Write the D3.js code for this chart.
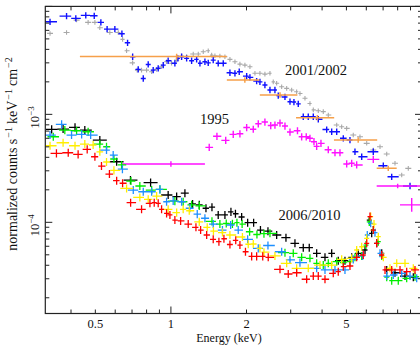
<!DOCTYPE html>
<html>
<head>
<meta charset="utf-8">
<script src="https://cdn.jsdelivr.net/npm/d3@7"></script>
<style>
  body { margin: 0; background: #fff; }
  text { font-family: "Liberation Serif", "Times New Roman", serif; fill: #111; }
</style>
</head>
<body>
<script>
// energies in keV, fluxes in units of 1e-3 counts s^-1 keV^-1 cm^-2
var unit = 1e-3;

// 2001/2002
var blueE = [0.330,0.384,0.418,0.458,0.495,0.526,0.557,0.598,0.638,0.672,0.704,0.741,0.776,0.812,0.850,0.890,0.932,0.975,1.037,1.066,1.103,1.155,1.209,1.266,1.305,1.366,1.408,1.474,1.543,1.616,1.718,1.799,1.871,2.003,2.064,2.195,2.262,2.368,2.480,2.596,2.676,2.846,2.980,3.090,3.215,3.366,3.524,3.690,3.863,4.172,4.368,4.574,4.859,5.166,5.408,5.753,6.397,7.014,7.574,8.96];
var blueF = [7.20,8.13,7.74,8.25,8.18,7.11,6.16,6.16,5.58,4.60,3.42,2.61,2.15,2.90,2.57,2.67,2.86,3.14,2.97,3.30,3.42,3.30,3.14,3.23,2.97,3.07,3.00,3.18,2.97,2.97,2.43,2.40,2.48,2.26,2.20,2.03,2.00,1.87,1.68,1.68,1.49,1.45,1.31,1.30,1.25,0.95,0.95,0.95,0.90,0.723,0.690,0.690,0.600,0.578,0.450,0.405,0.450,0.334,0.264,0.217];

var grayE = [0.330,0.384,0.421,0.468,0.498,0.521,0.571,0.617,0.642,0.666,0.704,0.734,0.764,0.800,0.838,0.877,0.918,0.961,1.006,1.054,1.103,1.155,1.227,1.285,1.345,1.408,1.453,1.497,1.567,1.641,1.718,1.799,1.883,1.971,2.064,2.161,2.262,2.368,2.480,2.556,2.637,2.761,2.891,3.026,3.168,3.266,3.419,3.579,3.690,3.863,4.044,4.234,4.574,4.787,5.012,5.324,5.662,6.022,6.397,6.804,7.236,7.806,8.302,8.818];
var grayF = [5.62,5.74,7.47,7.11,7.11,6.34,5.74,5.74,4.95,3.88,3.00,2.57,2.57,2.57,2.48,2.61,2.76,3.07,2.97,3.18,3.47,3.44,3.62,3.62,3.80,3.88,3.54,3.49,3.47,3.42,3.23,3.07,2.92,2.86,2.76,2.40,2.40,2.36,2.40,2.00,1.94,1.80,1.74,1.68,1.62,1.56,1.41,1.26,1.10,1.08,1.06,0.985,0.796,0.768,0.742,0.643,0.620,0.539,0.467,0.501,0.429,0.352,0.274,0.316];

var orangeE = [1.054,1.97,2.72,3.83,5.57,7.34];
var orangeLo = [0.434,1.67,2.26,3.15,4.46,6.60];
var orangeHi = [1.67,2.25,3.19,4.47,6.63,7.93];
var orangeF = [3.44,2.08,1.51,0.93,0.578,0.316];

// 1995
var magentaE = [1.421,1.525,1.653,1.771,1.883,2.003,2.128,2.228,2.368,2.498,2.596,2.719,2.846,2.980,3.192,3.317,3.459,3.579,3.713,3.806,3.959,4.234,4.502,4.713,5.012,5.247,5.493,6.397];
var magentaF = [0.495,0.626,0.574,0.653,0.661,0.755,0.728,0.818,0.849,0.788,0.796,0.831,0.779,0.686,0.705,0.620,0.620,0.600,0.558,0.505,0.539,0.470,0.441,0.441,0.347,0.352,0.340,0.383];
var magentaWideE = [1.0,8.0,9.1];
var magentaWideLo = [0.636,6.6,8.17];
var magentaWideHi = [1.366,10.5,10.5];
var magentaWideF = [0.347,0.217,0.145];
var magentaWideErr = [0.06,0.05,0.16];

// 2006/2010
var blackE = [0.335,0.372,0.415,0.454,0.521,0.608,0.690,0.830,0.975,1.054,1.137,1.220,1.297,1.379,1.457,1.543,1.641,1.734,1.807,1.913,2.021,2.135,2.273,2.435,2.637,2.872,3.119,3.366,3.556,3.806,4.108,4.368,4.640,4.934,5.247,5.575,5.929,6.166,6.304,6.600,6.912,7.236,7.806,8.556,9.234];
var blackF = [0.726,0.731,0.758,0.715,0.578,0.364,0.246,0.233,0.179,0.173,0.186,0.148,0.145,0.135,0.138,0.117,0.117,0.125,0.120,0.112,0.0992,0.0992,0.0848,0.0827,0.0763,0.0720,0.0639,0.0582,0.0582,0.0516,0.0474,0.0516,0.0441,0.0441,0.0474,0.0516,0.0554,0.105,0.0791,0.0639,0.0516,0.0362,0.0341,0.0318,0.0310];

var greenE = [0.340,0.378,0.421,0.468,0.521,0.554,0.593,0.636,0.693,0.752,0.838,0.904,1.037,1.119,1.209,1.297,1.457,1.567,1.661,1.758,1.832,1.921,2.058,2.201,2.347,2.480,2.846,3.071,3.317,3.579,3.806,4.044,4.234,4.574,4.859,5.166,5.408,5.753,5.983,6.166,6.397,6.698,6.912,7.236,7.574,8.045,8.690,9.378];
var greenF = [0.620,0.715,0.705,0.690,0.531,0.501,0.386,0.340,0.241,0.217,0.199,0.202,0.157,0.155,0.145,0.142,0.102,0.0964,0.0975,0.0968,0.0992,0.0964,0.0818,0.0771,0.0784,0.0791,0.0523,0.0516,0.0474,0.0464,0.0417,0.0402,0.0417,0.0432,0.0423,0.0432,0.0474,0.0488,0.0616,0.101,0.0848,0.0661,0.0488,0.0310,0.0288,0.0288,0.0303,0.0314];

var azureE = [0.330,0.367,0.402,0.441,0.479,0.554,0.589,0.641,0.708,0.776,0.838,0.904,0.961,1.021,1.103,1.190,1.273,1.366,1.474,1.604,1.729,1.854,2.021,2.228,2.435,2.761,2.980,3.266,3.806,4.108,4.502,4.934,5.324,5.804,6.055,6.246,6.497,6.804,7.236,7.686,8.302,8.96,9.526];
var azureF = [0.643,0.808,0.643,0.653,0.643,0.467,0.420,0.311,0.199,0.192,0.192,0.202,0.155,0.158,0.155,0.135,0.119,0.109,0.0964,0.0848,0.0944,0.0848,0.0696,0.0574,0.0610,0.0534,0.0448,0.0423,0.0375,0.0362,0.0362,0.0362,0.0454,0.0488,0.0763,0.0979,0.0801,0.0516,0.0318,0.0325,0.0337,0.0318,0.0303];

var yellowE = [0.330,0.372,0.415,0.454,0.490,0.521,0.554,0.593,0.666,0.752,0.812,0.877,0.975,1.054,1.119,1.183,1.297,1.395,1.477,1.604,1.718,1.927,2.032,2.128,2.262,2.347,2.596,2.891,3.168,3.524,3.924,4.368,4.787,5.247,5.493,5.753,6.022,6.246,6.440,6.698,7.014,7.456,7.930,8.556,9.234];
var yellowF = [0.512,0.546,0.512,0.531,0.520,0.450,0.362,0.303,0.206,0.170,0.163,0.175,0.132,0.123,0.132,0.128,0.101,0.0899,0.0830,0.0804,0.0763,0.0731,0.0626,0.0630,0.0574,0.0529,0.0488,0.0417,0.0375,0.0375,0.0402,0.0402,0.0454,0.0464,0.0554,0.0594,0.0711,0.113,0.0964,0.0736,0.0474,0.0375,0.0417,0.0417,0.0375];

var redE = [0.350,0.390,0.427,0.464,0.498,0.529,0.569,0.608,0.642,0.691,0.764,0.825,0.858,0.890,0.918,0.961,0.991,1.037,1.093,1.172,1.258,1.313,1.388,1.474,1.553,1.626,1.718,1.812,1.883,1.981,2.097,2.195,2.321,2.441,2.719,2.933,3.168,3.472,3.690,3.863,4.108,4.432,4.640,4.859,5.166,5.493,5.836,6.022,6.206,6.397,6.600,6.912,7.124,7.574,8.174,8.690,9.378];
var redF = [0.435,0.441,0.426,0.474,0.405,0.332,0.280,0.243,0.230,0.152,0.132,0.150,0.152,0.150,0.132,0.121,0.117,0.105,0.103,0.0964,0.0899,0.0848,0.0763,0.0696,0.0661,0.0704,0.0623,0.0681,0.0616,0.0534,0.0484,0.0484,0.0484,0.0474,0.0367,0.0332,0.0341,0.0297,0.0318,0.0318,0.0297,0.0337,0.0349,0.0388,0.0394,0.0474,0.0498,0.0639,0.113,0.0848,0.0639,0.0498,0.0362,0.0362,0.0362,0.0349,0.0362];

var xTickLabels = [0.5, 1, 2, 5];
var yTickLabels = [1e-4, 1e-3];

var plotLeft = 45.3, plotRight = 422, plotTop = 6.4, plotBottom = 313.5;

var x = d3.scaleLog().domain([0.316, 10]).range([plotLeft, plotRight]);
var y = d3.scaleLog().domain([1.43e-5, 1e-2]).range([plotBottom, plotTop]);

var svg = d3.select("body").append("svg")
  .attr("width", 420)
  .attr("height", 346)
  .attr("font-family", "'Liberation Serif', 'Times New Roman', serif");

svg.append("clipPath").attr("id", "plot")
  .append("rect")
  .attr("x", plotLeft).attr("y", plotTop)
  .attr("width", plotRight - plotLeft).attr("height", plotBottom - plotTop);

var plot = svg.append("g").attr("clip-path", "url(#plot)");

// crosses whose horizontal bars reach half way to the neighbouring bins
function crosses(E, F, color, relErr, minHalf, maxHalf, width) {
  var px = E.map(e => x(e));
  var d = "";
  for (let i = 0; i < E.length; i++) {
    var gl = i > 0 ? (px[i] - px[i - 1]) / 2 : (px[i + 1] - px[i]) / 2;
    var gr = i < E.length - 1 ? (px[i + 1] - px[i]) / 2 : gl;
    var hl = Math.max(minHalf, Math.min(maxHalf, gl));
    var hr = Math.max(minHalf, Math.min(maxHalf, gr));
    var f = F[i] * unit;
    var cy = y(f);
    d += `M${px[i] - hl},${cy}H${px[i] + hr}M${px[i]},${y(f * (1 + relErr))}V${y(f / (1 + relErr))}`;
  }
  plot.append("path")
    .attr("d", d)
    .attr("fill", "none")
    .attr("stroke", color)
    .attr("stroke-width", width);
}

function wideBins(E, lo, hi, F, err, color, width) {
  var d = "";
  for (let i = 0; i < E.length; i++) {
    var f = F[i] * unit;
    var e = Array.isArray(err) ? err[i] : err;
    d += `M${x(lo[i])},${y(f)}H${x(hi[i])}M${x(E[i])},${y(f * (1 + e))}V${y(f / (1 + e))}`;
  }
  plot.append("path")
    .attr("d", d)
    .attr("fill", "none")
    .attr("stroke", color)
    .attr("stroke-width", width);
}

crosses(grayE, grayF, "#a8a8a8", 0.05, 1.5, 3, 1.1);
crosses(blueE, blueF, "#1010ff", 0.07, 2, 7, 1.4);
wideBins(orangeE, orangeLo, orangeHi, orangeF, 0.06, "#f6a04a", 1.5);
crosses(magentaE, magentaF, "#ff10ff", 0.08, 3, 6, 1.4);
wideBins(magentaWideE, magentaWideLo, magentaWideHi, magentaWideF, magentaWideErr, "#ff10ff", 1.4);

crosses(blackE, blackF, "#000000", 0.09, 2.5, 7, 1.3);
crosses(greenE, greenF, "#00ee00", 0.09, 2.5, 7, 1.3);
crosses(azureE, azureF, "#1e8fff", 0.09, 2.5, 7, 1.3);
crosses(yellowE, yellowF, "#ffee00", 0.09, 2.5, 7, 1.3);
crosses(redE, redF, "#ff0000", 0.09, 2.5, 7, 1.3);

// frame and ticks
svg.append("rect")
  .attr("x", plotLeft).attr("y", plotTop)
  .attr("width", plotRight - plotLeft).attr("height", plotBottom - plotTop)
  .attr("fill", "none")
  .attr("stroke", "#222")
  .attr("stroke-width", 1.2);

function isDecade(v) {
  return Math.abs(Math.log10(v) - Math.round(Math.log10(v))) < 1e-6;
}

var ticks = svg.append("g").attr("stroke", "#222").attr("stroke-width", 1);
x.ticks().forEach(t => {
  var len = isDecade(t) ? 7 : 4;
  var px = x(t);
  ticks.append("line").attr("x1", px).attr("x2", px).attr("y1", plotBottom).attr("y2", plotBottom - len);
  ticks.append("line").attr("x1", px).attr("x2", px).attr("y1", plotTop).attr("y2", plotTop + len);
});
y.ticks().forEach(t => {
  var len = isDecade(t) ? 7 : 4;
  var py = y(t);
  ticks.append("line").attr("x1", plotLeft).attr("x2", plotLeft + len).attr("y1", py).attr("y2", py);
  ticks.append("line").attr("x1", plotRight).attr("x2", plotRight - len).attr("y1", py).attr("y2", py);
});

svg.selectAll(".xlab").data(xTickLabels).enter().append("text")
  .attr("class", "xlab")
  .attr("x", d => x(d))
  .attr("y", 328)
  .attr("text-anchor", "middle")
  .style("font-size", "12.5px")
  .text(d => d);

yTickLabels.forEach(v => {
  var t = svg.append("text")
    .attr("transform", `translate(39,${y(v) + 3}) rotate(-90)`)
    .attr("text-anchor", "middle")
    .style("font-size", "12.5px");
  t.append("tspan").text("10");
  t.append("tspan").attr("dy", -5).style("font-size", "9px").text("\u2212" + (-Math.round(Math.log10(v))));
});

svg.append("text")
  .attr("x", 229).attr("y", 341.5)
  .attr("text-anchor", "middle")
  .style("font-size", "12px")
  .text("Energy (keV)");

var yt = svg.append("text")
  .attr("transform", "translate(17,154) rotate(-90)")
  .attr("text-anchor", "middle")
  .style("font-size", "14px");
yt.append("tspan").text("normalized counts s");
yt.append("tspan").attr("dy", -5).attr("dx", 1).style("font-size", "10px").text("\u22121");
yt.append("tspan").attr("dy", 5).attr("dx", 3).text("keV");
yt.append("tspan").attr("dy", -5).attr("dx", 1).style("font-size", "10px").text("\u22121");
yt.append("tspan").attr("dy", 5).attr("dx", 3).text("cm");
yt.append("tspan").attr("dy", -5).attr("dx", 1).style("font-size", "10px").text("\u22122");

// year annotations
svg.append("text").attr("x", 285).attr("y", 75).style("font-size", "14.5px").text("2001/2002");
svg.append("text").attr("x", 200).attr("y", 123.5).style("font-size", "14.5px").text("1995");
svg.append("text").attr("x", 278.5).attr("y", 219.5).style("font-size", "14.5px").text("2006/2010");
</script>
</body>
</html>
